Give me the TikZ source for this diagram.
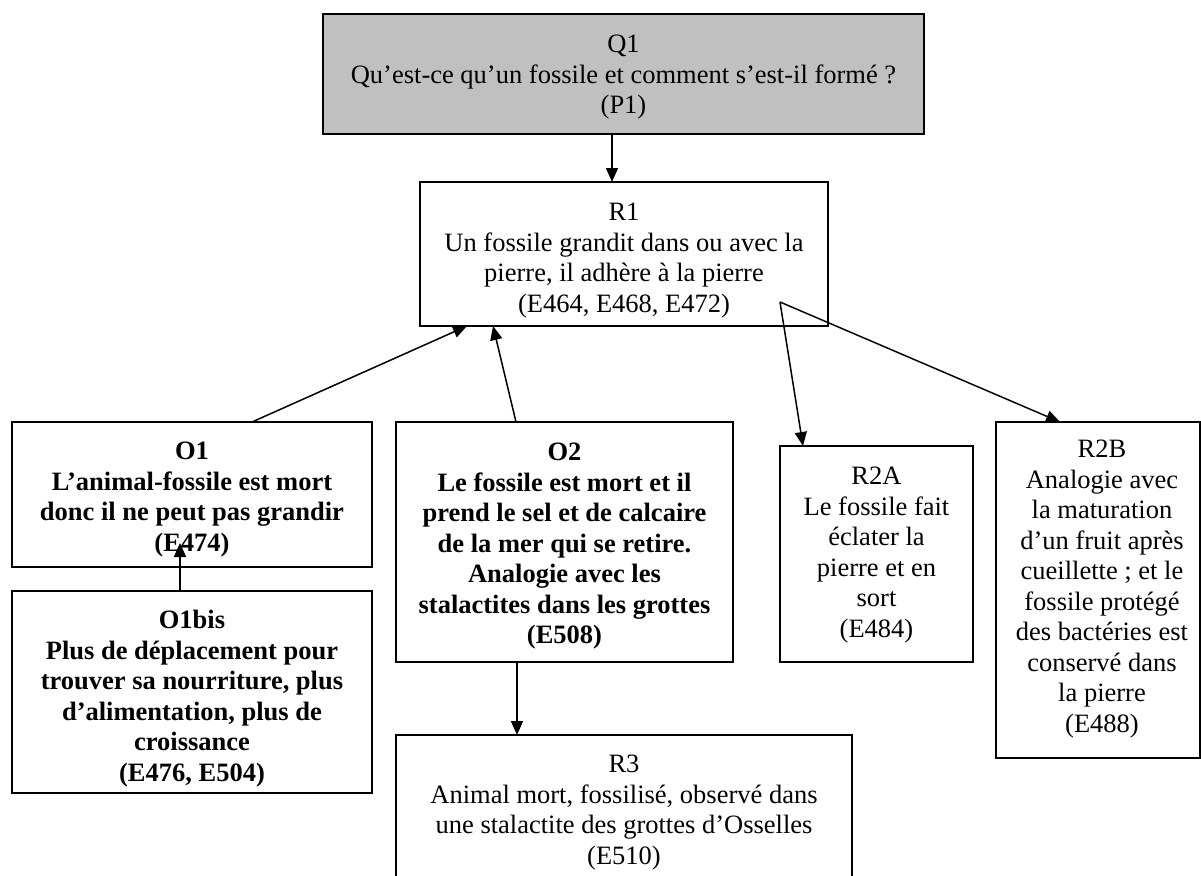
\documentclass[tikz,border=0pt]{standalone}
\usepackage{fontspec}
\setmainfont{Liberation Serif}
\usetikzlibrary{arrows.meta}
\definecolor{qgray}{HTML}{C0C0C0}
\begin{document}
\begin{tikzpicture}[x=1pt,y=-1pt,
  box/.style={draw=black, line width=1.6pt, anchor=north west, inner sep=0pt, outer sep=0pt},
  txt/.style={anchor=north, align=center, inner sep=0pt, font=\fontsize{26.5}{30.5}\selectfont},
  btxt/.style={txt, font=\fontsize{26.5}{30.5}\selectfont\bfseries},
  arr/.style={line width=1.5pt, -{Triangle[length=14pt,width=12pt]}}]
\useasboundingbox (0,0) rectangle (1201,875);
\clip (0,0) rectangle (1201,875);
\fill[white] (0,0) rectangle (1201,875);

% boxes
\node[box, fill=qgray, minimum width=601pt, minimum height=120pt] (q1) at (323,14) {};
\node[box, minimum width=408pt, minimum height=144pt] (r1) at (420,182) {};
\node[box, minimum width=360pt, minimum height=145pt] (o1) at (12,422) {};
\node[box, minimum width=360pt, minimum height=202pt] (o1bis) at (12,591) {};
\node[box, minimum width=337pt, minimum height=240pt] (o2) at (396,422) {};
\node[box, minimum width=456pt, minimum height=170pt] (r3) at (396,735) {};
\node[box, minimum width=193pt, minimum height=216pt] (r2a) at (780,446) {};
\node[box, minimum width=204pt, minimum height=336pt] (r2b) at (996,422) {};

% texts
\node[txt] (q1t) at ([yshift=-21pt]q1.north) {Q1\\Qu’est-ce qu’un fossile et comment s’est-il formé ?\\(P1)};
\node[txt] (r1t) at ([yshift=-21pt]r1.north) {R1\\Un fossile grandit dans ou avec la\\pierre, il adhère à la pierre\\(E464, E468, E472)};
\node[btxt] (o1t) at ([yshift=-20pt]o1.north) {O1\\L’animal-fossile est mort\\donc il ne peut pas grandir\\(E474)};
\node[btxt] (o1bist) at ([yshift=-19pt]o1bis.north) {O1bis\\Plus de déplacement pour\\trouver sa nourriture, plus\\d’alimentation, plus de\\croissance\\(E476, E504)};
\node[btxt] (o2t) at ([yshift=-21pt]o2.north) {O2\\Le fossile est mort et il\\prend le sel et de calcaire\\de la mer qui se retire.\\Analogie avec les\\stalactites dans les grottes\\(E508)};
\node[txt] (r2at) at ([yshift=-21pt]r2a.north) {R2A\\Le fossile fait\\éclater la\\pierre et en\\sort\\(E484)};
\node[txt] (r2bt) at ([xshift=4pt,yshift=-18pt]r2b.north) {R2B\\Analogie avec\\la maturation\\d’un fruit après\\cueillette ; et le\\fossile protégé\\des bactéries est\\conservé dans\\la pierre\\(E488)};
\node[txt] (r3t) at ([yshift=-20pt]r3.north) {R3\\Animal mort, fossilisé, observé dans\\une stalactite des grottes d’Osselles\\(E510)};

% connectors
\draw[arr] ([xshift=-11.5pt]q1.south) -- ([xshift=-12pt]r1.north);
\draw[arr] ([xshift=60pt]o1.north) -- ([xshift=-157pt]r1.south);
\draw[arr] ([xshift=-48.5pt]o2.north) -- ([xshift=-131pt]r1.south);
\draw[arr] ([xshift=-12pt]o1bis.north) -- ([xshift=-12pt,yshift=24pt]o1.south);
\draw[arr] ([xshift=-47.5pt]o2.south) -- ([xshift=-107pt]r3.north);
\coordinate (r1o) at ([xshift=-48pt,yshift=24pt]r1.south east);
\draw[arr] (r1o) -- ([xshift=-73.5pt]r2a.north);
\draw[arr] (r1o) -- ([xshift=-38pt]r2b.north);
\end{tikzpicture}
\end{document}
